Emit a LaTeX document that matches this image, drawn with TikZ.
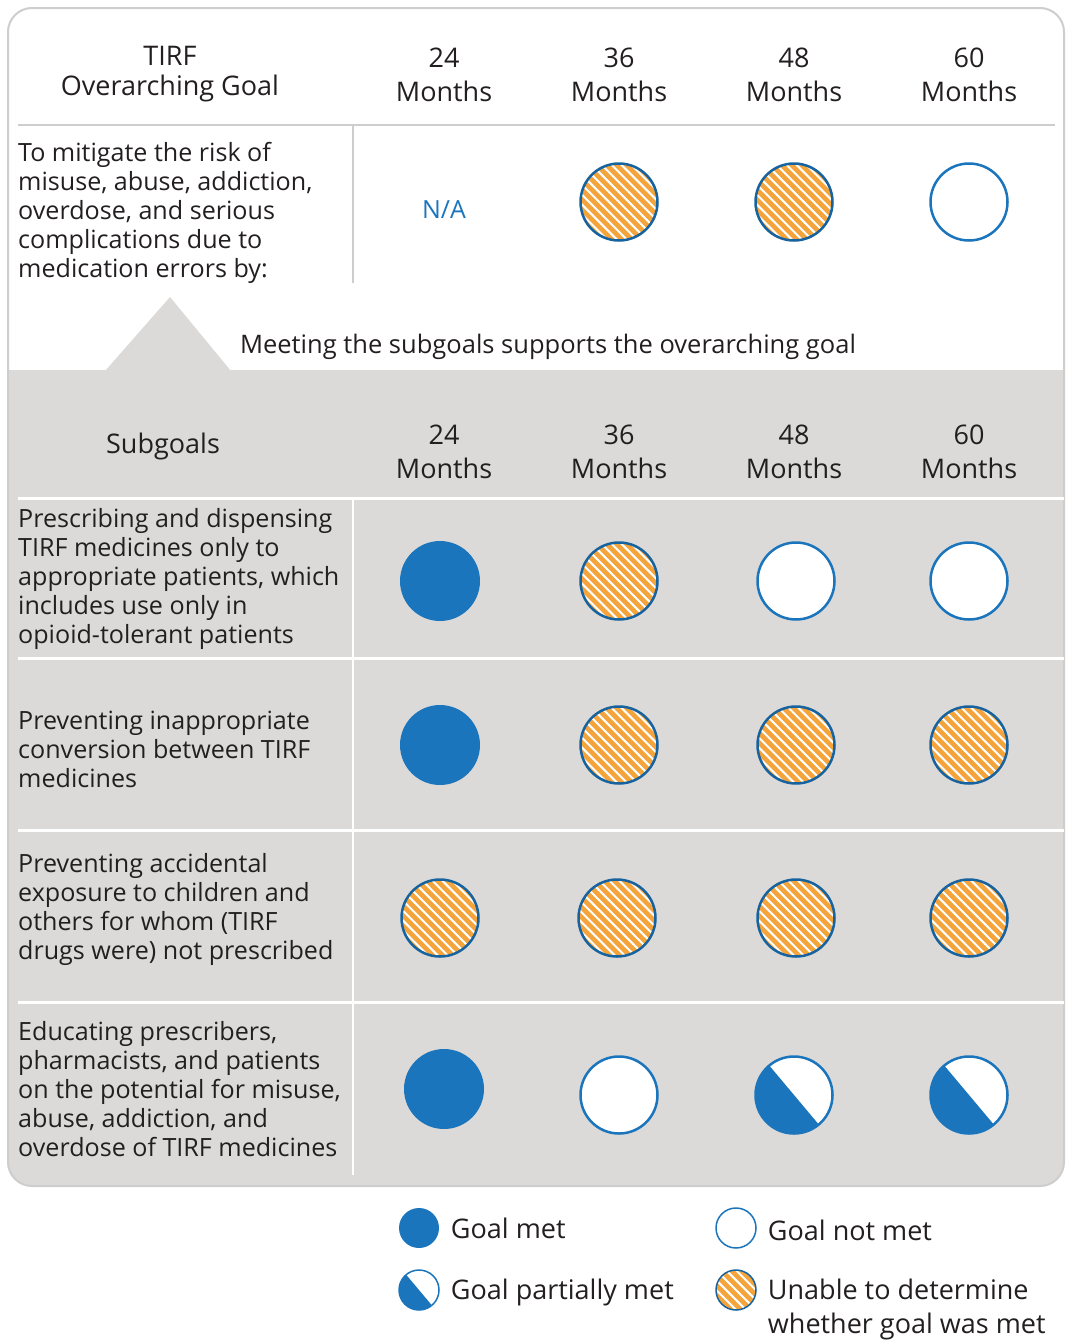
\documentclass[tikz,border=0pt]{standalone}
\usepackage{fontspec}
\setmainfont{Open Sans}
\usetikzlibrary{positioning}

\definecolor{tblue}{HTML}{1B75BC}
\definecolor{torange}{HTML}{F4A43A}
\definecolor{tgray}{HTML}{DCDAD8}
\definecolor{tborder}{HTML}{CDCDCD}
\definecolor{ttext}{HTML}{231F20}

\tikzset{
  head/.style={align=center, font=\fontsize{27}{34}\selectfont, text=ttext},
  goaltext/.style={align=left, anchor=west, inner sep=0pt, font=\fontsize{25.1}{29}\selectfont, text=ttext},
  legend/.style={align=left, inner sep=0pt, font=\fontsize{27}{34}\selectfont, text=ttext},
  goalmet/.style={circle, fill=tblue, minimum size=80pt, inner sep=0pt},
  goalnotmet/.style={circle, fill=white, draw=tblue, line width=2.5pt, minimum size=77pt, inner sep=0pt},
  goalpartial/.style={goalnotmet, path picture={\fill[tblue] (path picture bounding box.center) ++(130:60) -- ++(220:120) -- ++(310:120) -- ++(40:120) -- cycle;}},
  goalunknown/.style={goalnotmet, draw=tblue!85!black, fill=torange, path picture={\foreach \k in {-63,-56,...,63} \draw[white, line width=2pt] (path picture bounding box.center) ++(45:\k) ++(135:60) -- ++(315:120);}},
  small/.style={minimum size=40pt, line width=1.5pt}
}

\begin{document}
\begin{tikzpicture}[x=1pt,y=1pt]
  \useasboundingbox (0,0) rectangle (1066,-1341);

  % frame and grey part
  \begin{scope}
    \clip[rounded corners=24pt] (8,-8) rectangle (1064,-1186);
    \fill[tgray] (0,-370) rectangle (1066,-1190);
  \end{scope}
  \fill[tgray] (105,-371) -- (170,-297) -- (231,-371) -- cycle;
  \draw[tborder, line width=2pt, rounded corners=24pt] (8,-8) rectangle (1064,-1186);

  % rules
  \draw[tborder, line width=2pt] (18,-125) -- (1055,-125);
  \draw[tborder, line width=1.5pt] (353,-125) -- (353,-283);
  \foreach \y in {498,658,830,1002}
    \draw[white, line width=3pt] (18,-\y) -- (1064,-\y);
  \draw[white, line width=2pt] (353,-498) -- (353,-1175);

  % headers
  \node[head, font=\fontsize{27}{29.5}\selectfont] (goalhead) at (170,-74) {TIRF\\Overarching Goal};
  \node[head] (subgoals) at (163,-446) {Subgoals};
  \foreach \m [count=\i] in {24,36,48,60} {
    \node[head] (tophead\m) at (269+175*\i,-75) {\m\\Months};
    \node[head] (subhead\m) at (269+175*\i,-452) {\m\\Months};
  }

  % overarching goal
  \node[goaltext] (overall) at (18,-213) {To mitigate the risk of\\misuse, abuse, addiction,\\overdose, and serious\\complications due to\\medication errors by:};
  \node[font=\fontsize{25}{29}\selectfont, text=tblue] (na) at (444,-210) {N/A};
  \node[goalunknown] (over36) at (619,-202) {};
  \node[goalunknown] (over48) at (794,-202) {};
  \node[goalnotmet] (over60) at (969,-202) {};
  \node[font=\fontsize{25.5}{29}\selectfont, text=ttext] (meeting) at (548,-347) {Meeting the subgoals supports the overarching goal};

  % subgoals
  \node[goaltext] (sub1) at (18,-579) {Prescribing and dispensing\\TIRF medicines only to\\appropriate patients, which\\includes use only in\\opioid-tolerant patients};
  \node[goalmet] (sub1a) at (440,-581) {};
  \node[goalunknown] (sub1b) at (619,-581) {};
  \node[goalnotmet] (sub1c) at (796,-581) {};
  \node[goalnotmet] (sub1d) at (969,-581) {};

  \node[goaltext] (sub2) at (18,-749) {Preventing inappropriate\\conversion between TIRF\\medicines};
  \node[goalmet] (sub2a) at (440,-745) {};
  \node[goalunknown] (sub2b) at (619,-745) {};
  \node[goalunknown] (sub2c) at (796,-745) {};
  \node[goalunknown] (sub2d) at (969,-745) {};

  \node[goaltext] (sub3) at (18,-909) {Preventing accidental\\exposure to children and\\others for whom (TIRF\\drugs were) not prescribed};
  \node[goalunknown] (sub3a) at (440,-918) {};
  \node[goalunknown] (sub3b) at (617,-918) {};
  \node[goalunknown] (sub3c) at (796,-918) {};
  \node[goalunknown] (sub3d) at (969,-918) {};

  \node[goaltext] (sub4) at (18,-1089) {Educating prescribers,\\pharmacists, and patients\\on the potential for misuse,\\abuse, addiction, and\\overdose of TIRF medicines};
  \node[goalmet] (sub4a) at (444,-1089) {};
  \node[goalnotmet] (sub4b) at (619,-1095) {};
  \node[goalpartial] (sub4c) at (794,-1095) {};
  \node[goalpartial] (sub4d) at (969,-1095) {};

  % legend
  \node[goalmet, small] (lmet) at (419,-1228) {};
  \node[legend, right=11pt of lmet] (lmettext) {Goal met};
  \node[goalnotmet, small] (lnot) at (736,-1228) {};
  \node[legend, right=11pt of lnot, yshift=-2pt] (lnottext) {Goal not met};
  \node[goalpartial, small] (lpart) at (419,-1290) {};
  \node[legend, right=11pt of lpart, yshift=-2pt] (lparttext) {Goal partially met};
  \node[goalunknown, small] (lunk) at (736,-1290) {};
  \node[legend, right=11pt of lunk, yshift=-19pt] (lunktext) {Unable to determine\\whether goal was met};
\end{tikzpicture}
\end{document}
